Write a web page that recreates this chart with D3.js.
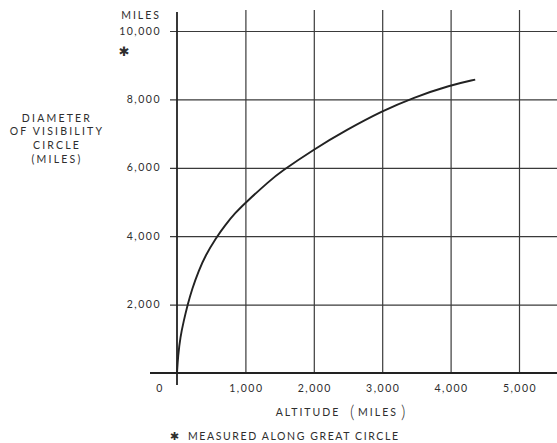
<!DOCTYPE html>
<html lang="en">
<head>
    <meta charset="UTF-8">
    <title>Diameter of Visibility Circle</title>
    <script src="https://d3js.org/d3.v7.min.js"></script>
    <style>
        body { margin: 0; background: #fff; }
        text { font-family: Lato, "DejaVu Sans", sans-serif; fill: #2e2e2e; letter-spacing: 1.5px; }
    </style>
</head>
<body>
    <svg id="chart" width="557" height="443"></svg>

    <script>
        // values
        const altitude = [0, 15, 49, 98, 156, 219, 317, 414, 570, 706, 851, 1000, 1360, 1500, 2000, 2480, 3000, 3450, 4000, 4360];
        const diameter = [0, 490, 1060, 1520, 2000, 2450, 2990, 3430, 3950, 4330, 4680, 4980, 5630, 5860, 6540, 7110, 7660, 8050, 8420, 8580];
        const xTicks = [1000, 2000, 3000, 4000, 5000];
        const xTickLabels = ["1,000", "2,000", "3,000", "4,000", "5,000"];
        const yTicks = [2000, 4000, 6000, 8000, 10000];
        const yTickLabels = ["2,000", "4,000", "6,000", "8,000", "10,000"];
        const yTitle = ["DIAMETER", "OF VISIBILITY", "CIRCLE", "(MILES)"];

        const svg = d3.select("#chart");

        const x = d3.scaleLinear().domain([0, 5000]).range([177, 519]);
        const y = d3.scaleLinear().domain([0, 10000]).range([373, 31]);

        // vertical grid lines
        svg.append("g")
            .attr("transform", "translate(0,373)")
            .call(d3.axisBottom(x).tickValues(xTicks).tickSize(-363).tickFormat(""))
            .call(g => g.select(".domain").remove())
            .call(g => g.selectAll("line").attr("stroke", "#3a3a3a").attr("stroke-width", 1.2));

        // horizontal grid lines
        svg.append("g")
            .attr("transform", "translate(557,0)")
            .call(d3.axisLeft(y).tickValues(yTicks).tickSize(387).tickFormat(""))
            .call(g => g.select(".domain").remove())
            .call(g => g.selectAll("line").attr("stroke", "#3a3a3a").attr("stroke-width", 1.2));

        // main axes
        svg.append("line")
            .attr("x1", 150).attr("x2", 557)
            .attr("y1", y(0)).attr("y2", y(0))
            .attr("stroke", "#222").attr("stroke-width", 1.8);
        svg.append("line")
            .attr("x1", x(0)).attr("x2", x(0))
            .attr("y1", 12).attr("y2", 385)
            .attr("stroke", "#222").attr("stroke-width", 1.8);

        // tick labels
        svg.selectAll(".ylab")
            .data(yTicks)
            .enter().append("text")
            .attr("class", "ylab")
            .attr("x", 161)
            .attr("y", d => y(d))
            .attr("dy", "0.35em")
            .attr("text-anchor", "end")
            .style("font-size", "10.5px")
            .text((d, i) => yTickLabels[i]);

        svg.selectAll(".xlab")
            .data(xTicks)
            .enter().append("text")
            .attr("class", "xlab")
            .attr("x", d => x(d) + 1)
            .attr("y", 388)
            .attr("dy", "0.35em")
            .attr("text-anchor", "middle")
            .style("font-size", "10.5px")
            .text((d, i) => xTickLabels[i]);

        svg.append("text")
            .attr("x", x(0) - 17).attr("y", 388).attr("dy", "0.35em")
            .attr("text-anchor", "middle")
            .style("font-size", "10.5px")
            .text("0");

        svg.append("text")
            .attr("x", 161).attr("y", 15).attr("dy", "0.35em")
            .attr("text-anchor", "end")
            .style("font-size", "10.5px")
            .style("letter-spacing", "2px")
            .text("MILES");

        svg.append("text")
            .attr("x", 125).attr("y", 51).attr("dy", "0.35em")
            .attr("text-anchor", "middle")
            .style("font-size", "13px")
            .text("✱");

        // y title
        svg.selectAll(".ytitle")
            .data(yTitle)
            .enter().append("text")
            .attr("class", "ytitle")
            .attr("x", 57)
            .attr("y", (d, i) => 118 + i * 13.7)
            .attr("dy", "0.35em")
            .attr("text-anchor", "middle")
            .style("font-size", "10.5px")
            .style("letter-spacing", "2.2px")
            .text(d => d);

        // x title
        svg.append("text")
            .attr("x", 308).attr("y", 412).attr("dy", "0.35em")
            .attr("text-anchor", "middle")
            .style("font-size", "10.5px")
            .style("letter-spacing", "2px")
            .text("ALTITUDE");
        svg.append("text")
            .attr("x", 378).attr("y", 412).attr("dy", "0.35em")
            .attr("text-anchor", "middle")
            .style("font-size", "10.5px")
            .style("letter-spacing", "2px")
            .text("MILES");
        svg.append("text")
            .attr("x", 353).attr("y", 412).attr("dy", "0.33em")
            .attr("text-anchor", "middle")
            .style("font-size", "17px")
            .style("font-weight", "300")
            .text("(");
        svg.append("text")
            .attr("x", 404).attr("y", 412).attr("dy", "0.33em")
            .attr("text-anchor", "middle")
            .style("font-size", "17px")
            .style("font-weight", "300")
            .text(")");

        // footnote
        svg.append("text")
            .attr("x", 175).attr("y", 436).attr("dy", "0.35em")
            .attr("text-anchor", "middle")
            .style("font-size", "11px")
            .text("✱");
        svg.append("text")
            .attr("x", 188).attr("y", 436).attr("dy", "0.35em")
            .style("font-size", "10.5px")
            .style("letter-spacing", "1.6px")
            .text("MEASURED ALONG GREAT CIRCLE");

        // curve
        const line = d3.line()
            .x((d, i) => x(altitude[i]))
            .y(d => y(d))
            .curve(d3.curveBasis);

        svg.append("path")
            .datum(diameter)
            .attr("d", line)
            .attr("fill", "none")
            .attr("stroke", "#222")
            .attr("stroke-width", 1.9);
    </script>
</body>
</html>
